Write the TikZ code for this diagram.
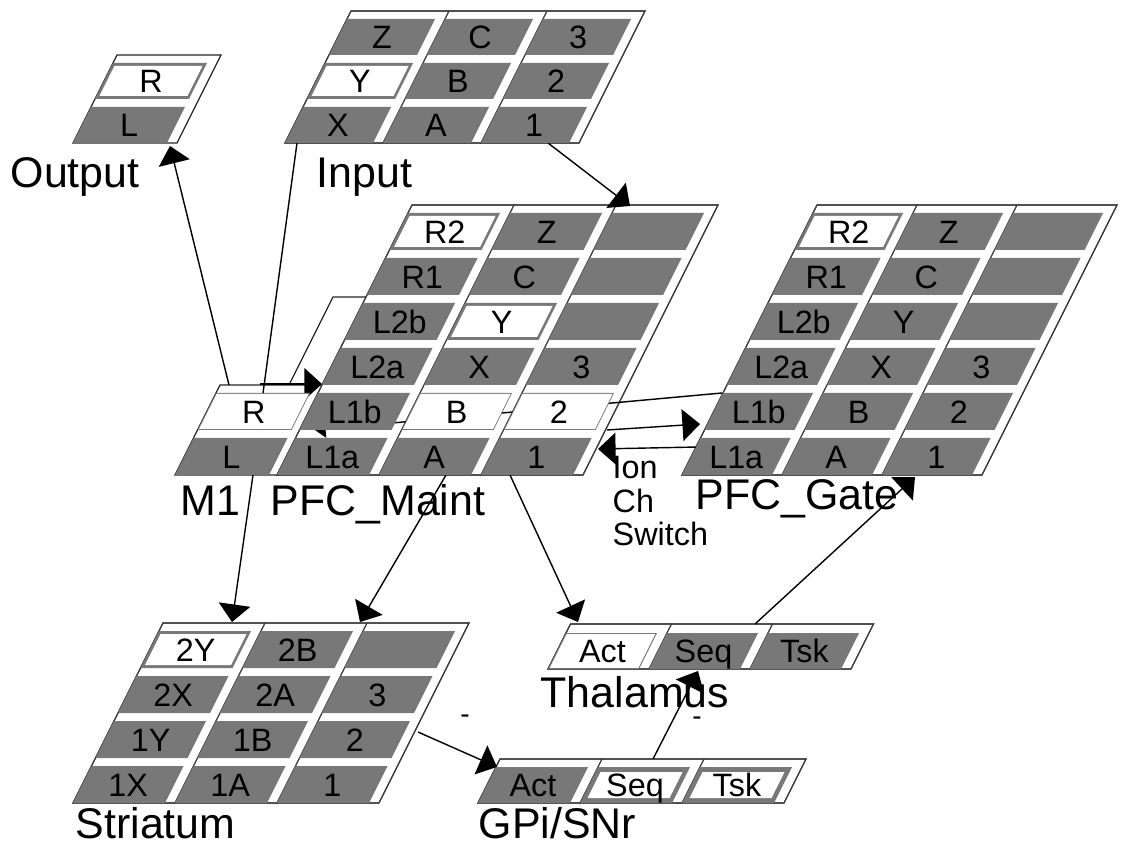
\documentclass[tikz,border=0pt]{standalone}
\usepackage{fontspec}
\setmainfont{Liberation Sans}
\usetikzlibrary{arrows.meta,backgrounds}
\definecolor{unitgray}{gray}{0.47}

\begin{document}
\begin{tikzpicture}[x=0.01cm, y=-0.01cm, >={Triangle[length=5pt,width=9pt]},
		frame/.style={draw=black!85, line width=0.35pt, fill=white},
		group/.style={draw=black!75, line width=0.3pt},
		conn/.style={->, line width=0.4pt},
		lbl/.style={anchor=base west, inner sep=0pt, font=\fontsize{12.2}{13}\selectfont},
		unittext/.style={inner sep=0pt, text height=6.6pt, text depth=0pt, font=\fontsize{9.2}{10}\selectfont}]
			\useasboundingbox (0,0) rectangle (1124,846);

			% ends of the projections
			\coordinate (m1-top) at (229,385);
			\coordinate (out-bot) at (170,146);
			\coordinate (inp-bot) at (297,143);
			\coordinate (m1-r) at (258,430);
			\coordinate (inp-bot2) at (548,143);
			\coordinate (pfcm-top) at (630,206);
			\coordinate (pfcm-bot) at (446,475);
			\coordinate (str-top2) at (360,622);
			\coordinate (m1-bot) at (253,475);
			\coordinate (str-top) at (232,622);
			\coordinate (pfcm-bot2) at (510,475);
			\coordinate (thal-top) at (578,622);
			\coordinate (str-side) at (418,732);
			\coordinate (gpi-side) at (497,767);
			\coordinate (gpi-top) at (653,759);
			\coordinate (thal-bot) at (698,671);
			\coordinate (thal-top2) at (755,624);
			\coordinate (pfcg-bot) at (915,477);
			\coordinate (pfcm-l1b) at (607,430);
			\coordinate (pfcg-l1b) at (700,424);
			\coordinate (pfcg-l1a) at (698,447);
			\coordinate (pfcm-l1a) at (598,449);
			\coordinate (pfcg-edge) at (722,393);
			\coordinate (m1-edge) at (315,430);
			\coordinate (m1-mid) at (260,384);
			\coordinate (pfcm-edge) at (322,384);

			\draw[conn] (m1-top) -- (out-bot);
			\draw[line width=0.4pt] (inp-bot) -- (m1-r);
			\draw[conn] (inp-bot2) -- (pfcm-top);
			\draw[conn] (pfcm-bot) -- (str-top2);
			\draw[conn] (m1-bot) -- (str-top);
			\draw[conn] (pfcm-bot2) -- (thal-top);
			\draw[conn] (str-side) -- (gpi-side);
			\draw[conn] (gpi-top) -- (thal-bot);
			\draw[conn] (thal-top2) -- (pfcg-bot);
			\draw[conn] (pfcm-l1b) -- (pfcg-l1b);
			\draw[conn] (pfcg-l1a) -- (pfcm-l1a);
			\draw[line width=0.4pt, -{Triangle[length=3pt,width=5pt]}] (pfcg-edge) -- (m1-edge);
			\draw[conn] (m1-mid) -- (pfcm-edge);

			% Output
			\begin{scope}[shift={(73,143)}, xslant=0.5]
				\begin{pgfonlayer}{background}
					\draw[frame] (0,0) rectangle (104,-88);
				\end{pgfonlayer}
				\foreach \c/\r/\t/\i in {0/0/L/0, 0/1/R/3}{
					\fill[unitgray] (\c*104,-\r*44) rectangle ++(94,-36);
					\ifdim\i pt>0pt \fill[white] (\c*104+\i,-\r*44-\i) rectangle ++({94-2*\i},{-36+2*\i}); \fi
					\node[unittext] (out-\c-\r) at (\c*104+47,-\r*44-18) {\t};
				}
			\end{scope}

			% Input
			\begin{scope}[shift={(285,143)}, xslant=0.5]
				\begin{pgfonlayer}{background}
					\draw[frame] (0,0) rectangle (294,-132);
					\foreach \c in {0,1,2} \draw[group] (\c*98,0) rectangle ++(98,-132);
				\end{pgfonlayer}
				\foreach \c/\r/\t/\i in {0/0/X/0, 1/0/A/0, 2/0/1/0, 0/1/Y/3, 1/1/B/0, 2/1/2/0, 0/2/Z/0, 1/2/C/0, 2/2/3/0}{
					\fill[unitgray] (\c*98,-\r*44) rectangle ++(88,-36);
					\ifdim\i pt>0pt \fill[white] (\c*98+\i,-\r*44-\i) rectangle ++({88-2*\i},{-36+2*\i}); \fi
					\node[unittext] (inp-\c-\r) at (\c*98+44,-\r*44-18) {\t};
				}
			\end{scope}

			% layer frame behind PFC_Maint
			\begin{scope}[shift={(289,385)}, xslant=0.5]
				\begin{pgfonlayer}{background}
					\draw[frame] (0,0) rectangle (104,-88);
				\end{pgfonlayer}
			\end{scope}

			% M1
			\begin{scope}[shift={(175,475)}, xslant=0.5]
				\begin{pgfonlayer}{background}
					\draw[frame] (0,0) rectangle (104,-90);
				\end{pgfonlayer}
				\foreach \c/\r/\t/\i in {0/0/L/0, 0/1/R/1}{
					\fill[unitgray] (\c*104,-\r*45) rectangle ++(94,-37);
					\ifdim\i pt>0pt \fill[white] (\c*104+\i,-\r*45-\i) rectangle ++({94-2*\i},{-37+2*\i}); \fi
					\node[unittext] (m1-\c-\r) at (\c*104+47,-\r*45-18.5) {\t};
				}
			\end{scope}

			% PFC_Maint
			\begin{scope}[shift={(277,475)}, xslant=0.5]
				\begin{pgfonlayer}{background}
					\draw[frame] (0,0) rectangle (306,-270);
					\foreach \c in {0,1,2} \draw[group] (\c*102,0) rectangle ++(102,-270);
				\end{pgfonlayer}
				\foreach \c/\r/\t/\i in {0/0/L1a/0, 1/0/A/0, 2/0/1/0, 0/1/L1b/0, 1/1/B/1, 2/1/2/1,
						0/2/L2a/0, 1/2/X/0, 2/2/3/0, 0/3/L2b/0, 1/3/Y/3, 2/3//0,
						0/4/R1/0, 1/4/C/0, 2/4//0, 0/5/R2/3, 1/5/Z/0, 2/5//0}{
					\fill[unitgray] (\c*102,-\r*45) rectangle ++(92,-37);
					\ifdim\i pt>0pt \fill[white] (\c*102+\i,-\r*45-\i) rectangle ++({92-2*\i},{-37+2*\i}); \fi
					\node[unittext] (pfcm-\c-\r) at (\c*102+46,-\r*45-18.5) {\t};
				}
			\end{scope}

			% PFC_Gate
			\begin{scope}[shift={(682,475)}, xslant=0.5]
				\begin{pgfonlayer}{background}
					\draw[frame] (0,0) rectangle (300,-270);
					\foreach \c in {0,1,2} \draw[group] (\c*100,0) rectangle ++(100,-270);
				\end{pgfonlayer}
				\foreach \c/\r/\t/\i in {0/0/L1a/0, 1/0/A/0, 2/0/1/0, 0/1/L1b/0, 1/1/B/0, 2/1/2/0,
						0/2/L2a/0, 1/2/X/0, 2/2/3/0, 0/3/L2b/0, 1/3/Y/0, 2/3//0,
						0/4/R1/0, 1/4/C/0, 2/4//0, 0/5/R2/3, 1/5/Z/0, 2/5//0}{
					\fill[unitgray] (\c*100,-\r*45) rectangle ++(90,-37);
					\ifdim\i pt>0pt \fill[white] (\c*100+\i,-\r*45-\i) rectangle ++({90-2*\i},{-37+2*\i}); \fi
					\node[unittext] (pfcg-\c-\r) at (\c*100+45,-\r*45-18.5) {\t};
				}
			\end{scope}

			% Striatum
			\begin{scope}[shift={(73,803)}, xslant=0.5]
				\begin{pgfonlayer}{background}
					\draw[frame] (0,0) rectangle (306,-180);
					\foreach \c in {0,1,2} \draw[group] (\c*102,0) rectangle ++(102,-180);
				\end{pgfonlayer}
				\foreach \c/\r/\t/\i in {0/0/1X/0, 1/0/1A/0, 2/0/1/0, 0/1/1Y/0, 1/1/1B/0, 2/1/2/0,
						0/2/2X/0, 1/2/2A/0, 2/2/3/0, 0/3/2Y/3, 1/3/2B/0, 2/3//0}{
					\fill[unitgray] (\c*102,-\r*45) rectangle ++(92,-37);
					\ifdim\i pt>0pt \fill[white] (\c*102+\i,-\r*45-\i) rectangle ++({92-2*\i},{-37+2*\i}); \fi
					\node[unittext] (str-\c-\r) at (\c*102+46,-\r*45-18.5) {\t};
				}
			\end{scope}

			% Thalamus
			\begin{scope}[shift={(548,669)}, xslant=0.5]
				\begin{pgfonlayer}{background}
					\draw[frame] (0,0) rectangle (303,-45);
					\foreach \c in {0,1,2} \draw[group] (\c*101,0) rectangle ++(101,-45);
				\end{pgfonlayer}
				\foreach \c/\t/\i in {0/Act/1.2, 1/Seq/0, 2/Tsk/0}{
					\fill[unitgray] (\c*101,0) rectangle ++(91,-36);
					\ifdim\i pt>0pt \fill[white] (\c*101+\i,-\i) rectangle ++({91-2*\i},{-36+2*\i}); \fi
					\node[unittext] (thal-\c) at (\c*101+45.5,-18) {\t};
				}
			\end{scope}

			% GPi/SNr
			\begin{scope}[shift={(478,803)}, xslant=0.5]
				\begin{pgfonlayer}{background}
					\draw[frame] (0,0) rectangle (306,-44);
					\foreach \c in {0,1,2} \draw[group] (\c*102,0) rectangle ++(102,-44);
				\end{pgfonlayer}
				\foreach \c/\t/\i in {0/Act/0, 1/Seq/5, 2/Tsk/5}{
					\fill[unitgray] (\c*102,0) rectangle ++(92,-36);
					\ifdim\i pt>0pt \fill[white] (\c*102+\i,-\i) rectangle ++({92-2*\i},{-36+2*\i}); \fi
					\node[unittext] (gpi-\c) at (\c*102+46,-18) {\t};
				}
			\end{scope}

			% layer names
			\node[lbl] (lbl-out) at (10,188) {Output};
			\node[lbl] (lbl-inp) at (316,188) {Input};
			\node[lbl] (lbl-m1) at (180,515) {M1};
			\node[lbl] (lbl-pfcm) at (270,515) {PFC\_Maint};
			\node[lbl] (lbl-pfcg) at (695,510) {PFC\_Gate};
			\node[lbl] (lbl-thal) at (540,707) {Thalamus};
			\node[lbl] (lbl-str) at (75,838) {Striatum};
			\node[lbl] (lbl-gpi) at (478,838) {GPi/SNr};
			\node[anchor=north west, inner sep=0pt, align=left, font=\fontsize{9.2}{9.4}\selectfont] (ion) at (612,456) {Ion\\Ch\\Switch};
			\node[inner sep=0pt, font=\fontsize{8}{9}\selectfont] (minus-str) at (465,719) {-};
			\node[inner sep=0pt, font=\fontsize{8}{9}\selectfont] (minus-gpi) at (697,721) {-};
		\end{tikzpicture}
\end{document}
